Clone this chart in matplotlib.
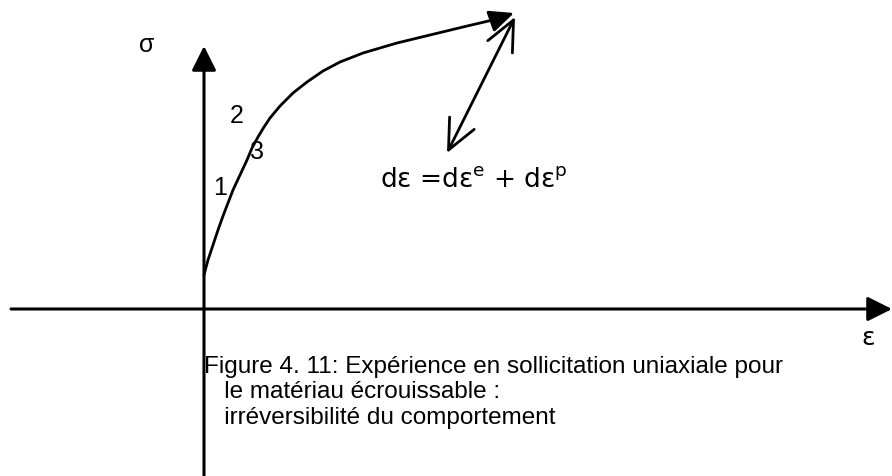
import matplotlib
import numpy as np

matplotlib.use("Agg")
import matplotlib.pyplot as plt

# hardening curve (pixel-like units, y downwards)
curve_x = [204, 208, 213, 218, 223, 228, 233, 240, 247, 252, 258, 264, 270, 280, 293, 307, 323, 340, 363, 397, 430, 463, 497]
curve_y = [275, 260, 245, 230, 216, 203, 190, 175, 160, 148, 137, 127, 118, 106, 93, 82, 71, 62, 53, 43, 35, 27, 19]
curve_tip = (514, 13)

# d-epsilon double arrow
deps_start = (447, 153)
deps_end = (515, 17)

# axes
x_axis = (11, 892, 309)
y_axis = (204, 476, 46)

labels = [("σ", 147, 45), ("2", 237, 116), ("3", 257, 152), ("1", 220, 188)]
eps_label = ("ε", 868, 338)
eq_label = ("dε =dε$^{\\mathregular{e}}$ + dε$^{\\mathregular{p}}$", 380, 180)
caption = [
    "Figure 4. 11: Expérience en sollicitation uniaxiale pour",
    "   le matériau écrouissable :",
    "   irréversibilité du comportement",
]


def main():
    plt.rcParams["font.family"] = ["Liberation Sans", "DejaVu Sans"]
    fig = plt.figure(figsize=(8.92, 4.76), dpi=100)
    ax = fig.add_axes([0, 0, 1, 1])
    ax.set_xlim(0, 892)
    ax.set_ylim(476, 0)
    ax.axis("off")

    head = dict(arrowstyle="-|>,head_length=1.0,head_width=0.5", color="k", lw=2.2,
                shrinkA=0, shrinkB=0, mutation_scale=15)
    x0, x1, yx = x_axis
    ax.annotate("", xy=(x1, yx), xytext=(x0, yx), arrowprops=head)
    xy, y0, y1 = y_axis
    ax.annotate("", xy=(xy, y1), xytext=(xy, y0), arrowprops=head)

    ax.plot(curve_x, curve_y, color="k", lw=2, solid_capstyle="round", solid_joinstyle="round")
    ax.annotate("", xy=curve_tip, xytext=(curve_x[-1], curve_y[-1]),
                arrowprops=dict(arrowstyle="-|>,head_length=1.0,head_width=0.45", color="k",
                                lw=2, shrinkA=0, shrinkB=0, mutation_scale=15))

    ax.annotate("", xy=deps_end, xytext=deps_start,
                arrowprops=dict(arrowstyle="<->,head_length=1.2,head_width=0.55", color="k",
                                lw=2, shrinkA=0, shrinkB=0, mutation_scale=18))

    for s, x, y in labels:
        ax.text(x, y, s, fontsize=18, ha="center", va="center")
    s, x, y = eps_label
    ax.text(x, y, s, fontsize=18, ha="center", va="center", family="DejaVu Sans")
    s, x, y = eq_label
    ax.text(x, y, s, fontsize=19, ha="left", va="center", family="DejaVu Sans")

    for i, line in enumerate(caption):
        ax.text(204, 367 + i * 25.5, line, fontsize=17.5, ha="left", va="center")

    fig.savefig("out.png", dpi=100)
    plt.close(fig)


if __name__ == "__main__":
    main()
